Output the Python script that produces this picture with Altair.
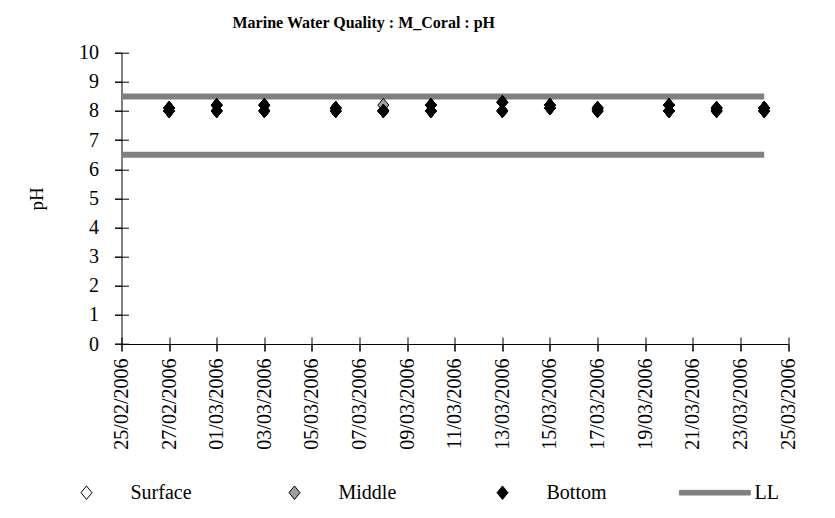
import altair as alt
import pandas as pd

# ---- data ----
sample_dates = ["2006-02-27", "2006-03-01", "2006-03-03", "2006-03-06", "2006-03-08", "2006-03-10",
                "2006-03-13", "2006-03-15", "2006-03-17", "2006-03-20", "2006-03-22", "2006-03-24"]
surface_1 = [8.0, 8.0, 8.0, 8.0, 8.0, 8.0, 8.0, 8.1, 8.0, 8.0, 8.0, 8.0]
surface_2 = [8.1, 8.2, 8.2, 8.1, 8.0, 8.2, 8.3, 8.2, 8.1, 8.2, 8.1, 8.1]
middle_1 = [8.0, 8.0, 8.0, 8.0, 8.0, 8.0, 8.0, 8.1, 8.0, 8.0, 8.0, 8.0]
middle_2 = [8.1, 8.2, 8.2, 8.1, 8.2, 8.2, 8.3, 8.2, 8.1, 8.2, 8.1, 8.1]
bottom_1 = [8.0, 8.0, 8.0, 8.0, 8.0, 8.0, 8.0, 8.1, 8.0, 8.0, 8.0, 8.0]
bottom_2 = [8.1, 8.2, 8.2, 8.1, 8.0, 8.2, 8.3, 8.2, 8.1, 8.2, 8.1, 8.1]

limit_values = [8.5, 6.5]
limit_start = "2006-02-25"
limit_end = "2006-03-24"

tick_dates = [(2006, 2, 25), (2006, 2, 27), (2006, 3, 1), (2006, 3, 3), (2006, 3, 5), (2006, 3, 7),
              (2006, 3, 9), (2006, 3, 11), (2006, 3, 13), (2006, 3, 15), (2006, 3, 17), (2006, 3, 19),
              (2006, 3, 21), (2006, 3, 23), (2006, 3, 25)]
y_ticks = [0, 1, 2, 3, 4, 5, 6, 7, 8, 9, 10]

series_names = ["Surface", "Middle", "Bottom", "LL"]
series_fill = ["#ffffff", "#a0a0a0", "#000000", "#808080"]
series_stroke = ["#000000", "#000000", "#000000", "#808080"]
# diamond: a leading move-to gives it the same left extent as the LL bar, so legend entries align
diamond = "M-5.07,0M0,-1.1L0.9,0L0,1.1L-0.9,0Z"
ll_bar = "M-5.07,-0.38H6.5V0.38H-5.07Z"
series_shapes = [diamond, diamond, diamond, ll_bar]

# ---- tables ----
rows = []
for name, a, b in [("Surface", surface_1, surface_2), ("Middle", middle_1, middle_2),
                   ("Bottom", bottom_1, bottom_2)]:
    for d, v in zip(sample_dates, a):
        rows.append({"date": d, "value": v, "series": name})
    for d, v in zip(sample_dates, b):
        rows.append({"date": d, "value": v, "series": name})
pts = pd.DataFrame(rows)
lim = pd.DataFrame({"start": [limit_start] * len(limit_values),
                    "end": [limit_end] * len(limit_values),
                    "value": limit_values})

FONT = "Liberation Serif"
tick_vals = [alt.DateTime(year=y, month=m, date=d, utc=True) for (y, m, d) in tick_dates]
xscale = alt.Scale(type="utc", domain=[tick_vals[0], tick_vals[-1]], nice=False)
yscale = alt.Scale(domain=[0, 10], nice=False, zero=True)

legend = alt.Legend(title=None, orient="none", legendX=-45, legendY=430, direction="horizontal",
                    columns=4, gridAlign="all", columnPadding=68, symbolSize=150, labelOffset=34,
                    labelFont=FONT, labelFontSize=20, labelColor="black", symbolStrokeWidth=1,
                    padding=0, symbolOpacity=1)

rules = alt.Chart(lim).mark_rule(color="#808080", strokeWidth=6).encode(
    x=alt.X("start:T", scale=xscale,
            axis=alt.Axis(orient="bottom", offset=-7, values=tick_vals, labels=False, domain=False,
                          ticks=True, tickSize=14, grid=False, title=None)),
    x2="end:T",
    y=alt.Y("value:Q", scale=yscale,
            axis=alt.Axis(orient="left", offset=-7, values=y_ticks, labels=False, domain=False,
                          ticks=True, tickSize=14, grid=False, title=None)),
)

points = alt.Chart(pts).mark_point(filled=True, size=150, strokeWidth=1, opacity=1).encode(
    x=alt.X("date:T", scale=xscale,
            axis=alt.Axis(orient="bottom", values=tick_vals, format="%d/%m/%Y", labelAngle=-90,
                          tickSize=7, labelPadding=7, grid=False, title=None)),
    y=alt.Y("value:Q", scale=yscale,
            axis=alt.Axis(orient="left", values=y_ticks, tickSize=7, labelPadding=16, grid=False,
                          title="pH", titlePadding=32)),
    fill=alt.Fill("series:N", scale=alt.Scale(domain=series_names, range=series_fill), legend=legend),
    stroke=alt.Stroke("series:N", scale=alt.Scale(domain=series_names, range=series_stroke), legend=legend),
    shape=alt.Shape("series:N", scale=alt.Scale(domain=series_names, range=series_shapes), legend=legend),
)

chart = alt.layer(rules, points).resolve_axis(x="independent", y="independent").properties(
    width=666.5, height=291.3,
    autosize="none",
    padding={"left": 113.5, "top": 44.7, "right": 20, "bottom": 160},
    title=alt.TitleParams(text="Marine Water Quality : M_Coral  : pH", font=FONT, fontSize=16,
                          fontWeight="bold", anchor="middle", frame="group", dx=-91, offset=12,
                          color="black"),
).configure_view(stroke=None).configure_axis(
    labelFont=FONT, labelFontSize=20, labelColor="black", titleFont=FONT, titleFontSize=19,
    titleFontWeight="normal", titleColor="black", domainColor="black", tickColor="black",
    domainWidth=1, tickWidth=1,
)

chart.save("out.html", embed_options={"renderer": "svg", "actions": False})
